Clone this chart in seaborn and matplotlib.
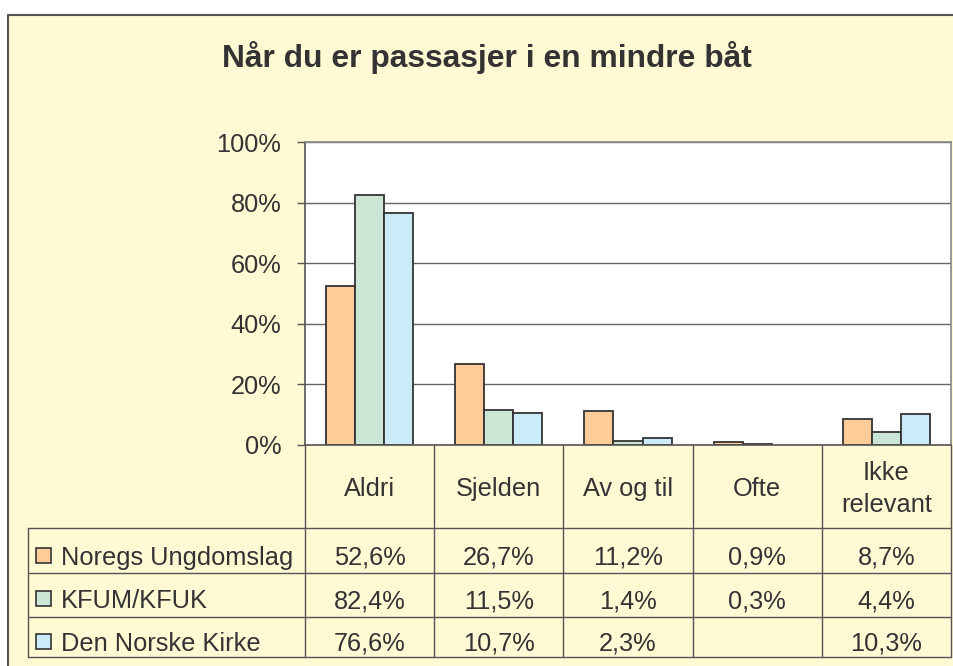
import numpy as np
import pandas as pd
import matplotlib.pyplot as plt
import seaborn as sns
from matplotlib.patches import Rectangle

# data fra tabellen
kategorier = ['Aldri', 'Sjelden', 'Av og til', 'Ofte', 'Ikke\nrelevant']
grupper = ['Noregs Ungdomslag', 'KFUM/KFUK', 'Den Norske Kirke']
noregs_ungdomslag = [52.6, 26.7, 11.2, 0.9, 8.7]
kfum_kfuk = [82.4, 11.5, 1.4, 0.3, 4.4]
den_norske_kirke = [76.6, 10.7, 2.3, np.nan, 10.3]
farger = ['#FFCC99', '#CCE6D6', '#CCEBF9']
y_ticks = [0, 20, 40, 60, 80, 100]

verdier = [noregs_ungdomslag, kfum_kfuk, den_norske_kirke]
df = pd.DataFrame({
    'kategori': kategorier * 3,
    'gruppe': [g for g in grupper for _ in kategorier],
    'andel': noregs_ungdomslag + kfum_kfuk + den_norske_kirke,
})

sns.set_style('white')
plt.rcParams['font.family'] = ['Liberation Sans', 'DejaVu Sans']
tekst = '#333333'
linje = '#555555'
fs = 18.3

W, H = 954, 666
fig = plt.figure(figsize=(W / 100, H / 100), dpi=100, facecolor='white')

# bakgrunn + tabell tegnes i pikselkoordinater
bg = fig.add_axes([0, 0, 1, 1], zorder=0)
bg.set_xlim(0, W)
bg.set_ylim(H, 0)
bg.axis('off')
bg.add_patch(Rectangle((8, 15), W - 8, H - 15, facecolor='#FFF9D4', edgecolor='none'))
bg.plot([8, 8], [15, H], color=linje, lw=1.5)
bg.plot([8, W], [15, 15], color=linje, lw=1.5)

# plottområdet
px_l, px_r, px_t, px_b = 305, 951, 142, 445
ax = fig.add_axes([px_l / W, (H - px_b) / H, (px_r - px_l) / W, (px_b - px_t) / H], zorder=2)
ax.set_facecolor('white')
sns.barplot(data=df, x='kategori', y='andel', hue='gruppe', order=kategorier,
            hue_order=grupper, palette=farger, saturation=1, width=0.675, errorbar=None,
            edgecolor='#333333', linewidth=1.3, legend=False, ax=ax)
ax.set_ylim(0, 100)
ax.set_xlim(-0.5, len(kategorier) - 0.5)
ax.set_yticks(y_ticks)
ax.set_yticklabels([f'{t}%' for t in y_ticks], fontsize=fs, color=tekst)
ax.yaxis.grid(True, color='#666666', lw=1)
ax.set_axisbelow(True)
ax.tick_params(axis='y', left=True, length=6, width=1, color=linje, pad=11)
ax.tick_params(axis='x', length=0, labelbottom=False)
ax.set_xlabel('')
ax.set_ylabel('')
for s in ax.spines.values():
    s.set_color('#888888')
    s.set_linewidth(1.2)
ax.spines['left'].set_color(linje)
ax.spines['bottom'].set_color(linje)

# tabellen under grafen
col_w = (px_r - px_l) / len(kategorier)
rad_y = [528, 573, 617, 657]
for i in range(len(kategorier) + 1):
    x = px_l + i * col_w
    bg.plot([x, x], [px_b, rad_y[-1]], color=linje, lw=1)
for y in rad_y:
    bg.plot([28, px_r], [y, y], color=linje, lw=1)
bg.plot([28, 28], [rad_y[0], rad_y[-1]], color=linje, lw=1)

for i, k in enumerate(kategorier):
    bg.text(px_l + (i + 0.5) * col_w, 489, k, ha='center', va='center',
            fontsize=fs, color=tekst, linespacing=1.45)

baselines = [565, 608, 651]
for r, (g, vals, c) in enumerate(zip(grupper, verdier, farger)):
    bg.add_patch(Rectangle((36, baselines[r] - 17), 15, 15, facecolor=c,
                           edgecolor='#333333', lw=1.2))
    bg.text(61, baselines[r], g, ha='left', va='baseline', fontsize=fs, color=tekst)
    for i, v in enumerate(vals):
        if np.isnan(v):
            continue
        bg.text(px_l + (i + 0.5) * col_w, baselines[r], f'{v:.1f}%'.replace('.', ','),
                ha='center', va='baseline', fontsize=fs, color=tekst)

# tittel
bg.text(487, 67, 'Når du er passasjer i en mindre båt', ha='center', va='baseline',
        fontsize=22.9, fontweight='bold', color=tekst)

fig.savefig('out.png', dpi=100)
